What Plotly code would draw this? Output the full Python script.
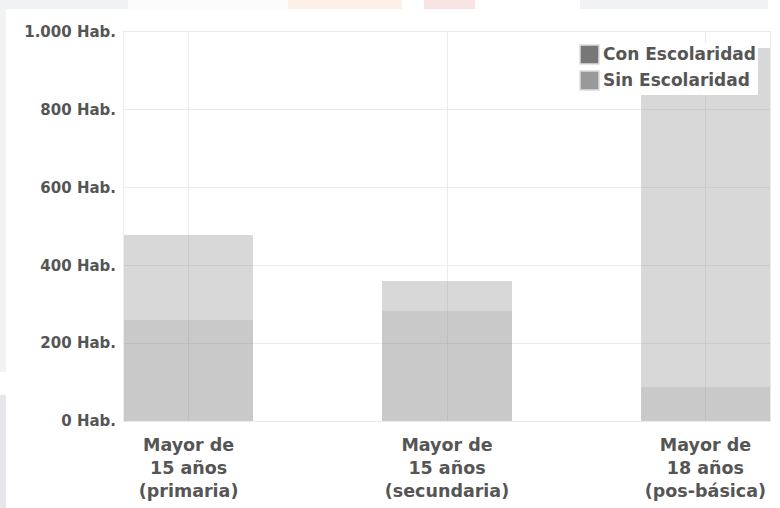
import plotly.graph_objects as go

# --- data -------------------------------------------------------------
categories = ["Mayor de<br>15 años<br>(primaria)",
              "Mayor de<br>15 años<br>(secundaria)",
              "Mayor de<br>18 años<br>(pos-básica)"]
series_names = ["Con Escolaridad", "Sin Escolaridad"]
con_escolaridad = [260, 282, 88]
sin_escolaridad = [218, 78, 872]
y_tick_vals = [0, 200, 400, 600, 800, 1000]
y_tick_text = ["0 Hab.", "200 Hab.", "400 Hab.", "600 Hab.", "800 Hab.", "1.000 Hab."]

# --- geometry helpers (page pixels -> paper coords) -------------------
W, H = 780, 508
ML, MR, MT, MB = 124, 10, 32, 87
PW, PH = W - ML - MR, H - MT - MB


def px(x):
    return (x - ML) / PW


def py(y):
    return (H - MB - y) / PH


FONT = "DejaVu Sans"
TEXT = "#555555"

fig = go.Figure()
fig.add_trace(go.Bar(x=categories, y=con_escolaridad, name=series_names[0],
                     marker=dict(color="rgba(119,119,119,0.40)", line=dict(width=0)),
                     width=0.5, showlegend=False))
fig.add_trace(go.Bar(x=categories, y=sin_escolaridad, name=series_names[1],
                     marker=dict(color="rgba(153,153,153,0.38)", line=dict(width=0)),
                     width=0.5, showlegend=False))

# faint page strips around the chart
shapes = []
def strip(x0, y0, x1, y1, color):
    shapes.append(dict(type="rect", xref="paper", yref="paper",
                       x0=px(x0), x1=px(x1), y0=py(y1), y1=py(y0),
                       fillcolor=color, line=dict(width=0), layer="below"))

strip(0, 0, 128, 9, "#f1f2f5")
strip(128, 0, 288, 9, "#fcfcfc")
strip(288, 0, 402, 9, "#fdf0e6")
strip(424, 0, 475, 9, "#f9e4e4")
strip(580, 0, 768, 9, "#f1f2f5")
strip(0, 9, 6, 372, "#f2f2f5")
strip(0, 395, 6, 508, "#e6e6ec")

# legend box
legend_colors = ["#777777", "#999999"]
strip(578, 43, 758, 95, "rgba(255,255,255,1)")
shapes[-1]["layer"] = "above"
annotations = []
for i, (name, col) in enumerate(zip(series_names, legend_colors)):
    y0 = 45 + i * 26
    shapes.append(dict(type="rect", xref="paper", yref="paper",
                       x0=px(580), x1=px(599), y0=py(y0 + 19), y1=py(y0),
                       fillcolor=col, line=dict(color="#dddddd", width=1.5),
                       layer="above"))
    annotations.append(dict(xref="paper", yref="paper", x=px(601), y=py(y0 + 9.5),
                            text=name, showarrow=False, xanchor="left",
                            yanchor="middle",
                            font=dict(family=FONT, size=17, color=TEXT,
                                      weight="bold")))

fig.update_layout(
    width=W, height=H,
    margin=dict(l=ML, r=MR, t=MT, b=MB),
    paper_bgcolor="white", plot_bgcolor="white",
    barmode="stack", bargap=0.5,
    showlegend=False,
    shapes=shapes, annotations=annotations,
    font=dict(family=FONT, color=TEXT),
    xaxis=dict(range=[-0.25, 2.25], showgrid=True, gridcolor="#ebebeb",
               showline=True, mirror=True, linecolor="#ebebeb",
               tickfont=dict(family=FONT, size=17.5, color=TEXT, weight="bold"),
               ticks="", ticklabelstandoff=8, automargin=False),
    yaxis=dict(range=[0, 1000], tickvals=y_tick_vals, ticktext=y_tick_text,
               showgrid=True, gridcolor="#ebebeb", zeroline=False,
               showline=True, mirror=True, linecolor="#ebebeb",
               tickfont=dict(family=FONT, size=15, color=TEXT, weight="bold"),
               ticks="", ticklabelstandoff=4, automargin=False),
)

fig.write_html("out.html")
